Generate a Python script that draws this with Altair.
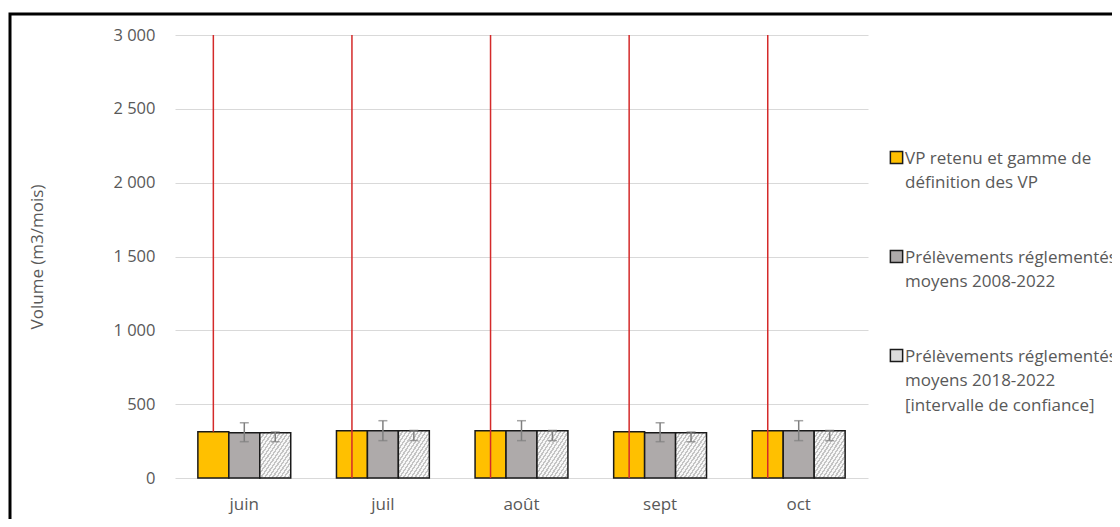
import altair as alt
import pandas as pd

months = ["juin", "juil", "août", "sept", "oct"]
series = [
    "VP retenu et gamme de|définition des VP",
    "Prélèvements réglementés|moyens 2008-2022",
    "Prélèvements réglementés|moyens 2018-2022|[intervalle de confiance]",
]
vp = [313, 320, 320, 313, 320]
moy_2008 = [306, 320, 320, 307, 320]
moy_2018 = [306, 320, 320, 307, 320]
err2008_low = [246, 253, 253, 246, 253]
err2008_high = [374, 388, 388, 374, 388]
err2018_low = [246, 253, 253, 246, 253]
err2018_high = [312, 322, 322, 312, 322]
gamme_low = [313, 0, 0, 0, 0]
gamme_high = [3000, 3000, 3000, 3000, 3000]

rows = []
for i, m in enumerate(months):
    rows.append({"mois": m, "serie": series[0], "val": vp[i], "lo": gamme_low[i], "hi": gamme_high[i], "kind": "vp"})
    rows.append({"mois": m, "serie": series[1], "val": moy_2008[i], "lo": err2008_low[i], "hi": err2008_high[i], "kind": "err"})
    rows.append({"mois": m, "serie": series[2], "val": moy_2018[i], "lo": err2018_low[i], "hi": err2018_high[i], "kind": "err"})
df = pd.DataFrame(rows)

# hatch pattern approximated with a striped linear gradient
N = 16
stops = []
for i in range(N):
    a = i / N
    b = (i + 0.45) / N
    c = (i + 1) / N
    stops += [
        {"offset": a, "color": "#c4c4c4"},
        {"offset": b, "color": "#c4c4c4"},
        {"offset": b, "color": "#f7f7f7"},
        {"offset": c, "color": "#f7f7f7"},
    ]
hatch = {"gradient": "linear", "x1": 0, "y1": 0, "x2": 1, "y2": 1, "stops": stops}

FS = 17
DY = 6

x_enc = alt.X("mois:N", sort=months, title=None,
              scale=alt.Scale(paddingInner=0.33, paddingOuter=0.165),
              axis=alt.Axis(labelAngle=0, labelPadding=18 - DY, ticks=False, domain=False,
                            labelFontSize=FS, labelColor="#595959", labelFont="Open Sans"))
xoff = alt.XOffset("serie:N", sort=series, scale=alt.Scale(domain=series, paddingInner=0, paddingOuter=0))
y_scale = alt.Scale(domain=[0, 3000], nice=False)

bars = alt.Chart(df).mark_bar(stroke="#1a1a1a", strokeWidth=1.5).encode(
    x=x_enc,
    xOffset=xoff,
    y=alt.Y("val:Q", scale=y_scale, title="Volume (m3/mois)",
            axis=alt.Axis(values=[0, 500, 1000, 1500, 2000, 2500, 3000],
                          labelExpr="replace(format(datum.value, ','), ',', ' ')",
                          ticks=False, domain=False, gridColor="#d9d9d9",
                          labelFontSize=16.5, labelColor="#595959", labelFont="Open Sans",
                          labelPadding=20, labelOffset=-DY,
                          titleFontSize=FS, titleColor="#595959",
                          titleFont="Open Sans", titleFontWeight="normal", titlePadding=66)),
    fill=alt.condition(
        alt.datum.serie == series[2],
        alt.value(hatch),
        alt.Color("serie:N", sort=series,
                  scale=alt.Scale(domain=series, range=["#FFC000", "#AEAAAA", "#dcdcdc"]),
                  legend=alt.Legend(title=None, orient="none", legendX=713, legendY=114,
                                    symbolType="square", symbolSize=150,
                                    symbolStrokeColor="#1a1a1a", symbolStrokeWidth=1.5,
                                    labelExpr="split(datum.label, '|')",
                                    labelFontSize=FS, labelColor="#595959",
                                    labelFont="Open Sans", labelOffset=0,
                                    labelLimit=400, rowPadding=56, labelBaseline="alphabetic")),
    ),
)

errdf = df[df["kind"] == "err"]
err_rule = alt.Chart(errdf).mark_rule(color="#7f7f7f", strokeWidth=1.5).encode(
    x=alt.X("mois:N", sort=months), xOffset=xoff,
    y=alt.Y("lo:Q", scale=y_scale), y2="hi:Q")
err_top = alt.Chart(errdf).mark_tick(color="#7f7f7f", thickness=1.5, size=9, orient="horizontal").encode(
    x=alt.X("mois:N", sort=months), xOffset=xoff, y=alt.Y("hi:Q", scale=y_scale))
err_bot = alt.Chart(errdf).mark_tick(color="#7f7f7f", thickness=1.5, size=9, orient="horizontal").encode(
    x=alt.X("mois:N", sort=months), xOffset=xoff, y=alt.Y("lo:Q", scale=y_scale))

vpdf = df[df["kind"] == "vp"]
gamme = alt.Chart(vpdf).mark_rule(color="#D42A2A", strokeWidth=1.5).encode(
    x=alt.X("mois:N", sort=months), xOffset=xoff,
    y=alt.Y("lo:Q", scale=y_scale), y2="hi:Q")

frame = alt.Chart(pd.DataFrame({"a": [0]})).mark_rect(
    fill=None, stroke="black", strokeWidth=3, clip=False).encode(
    x=alt.value(-165), x2=alt.value(1000), y=alt.value(-21), y2=alt.value(560))

chart = alt.layer(bars, err_rule, err_top, err_bot, gamme, frame).resolve_scale(
    xOffset="shared"
).properties(
    width=693, height=443,
    autosize=alt.AutoSizeParams(type="none"),
    padding={"left": 167, "top": 27, "right": 244, "bottom": 41},
).configure(
    style={"guide-label": {"lineHeight": 24.5, "dy": DY}},
    view=alt.ViewConfig(stroke=None),
)

chart.save("out.html", embed_options={"renderer": "svg", "actions": False})
